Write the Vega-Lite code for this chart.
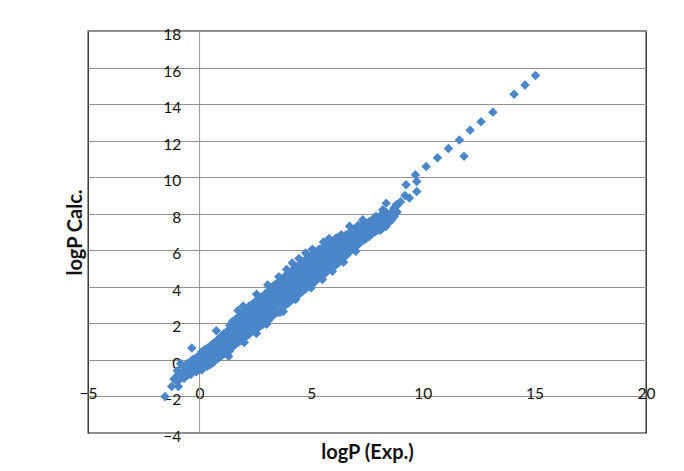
{
  "$schema": "https://vega.github.io/schema/vega-lite/v6.json",
  "width": 558,
  "height": 402,
  "autosize": {"type": "none"},
  "padding": {"left": 88, "top": 31, "right": 38, "bottom": 38},
  "background": "white",
  "config": {"view": {"stroke": "#1a1a1a", "strokeWidth": 1.3}, "font": "Lato"},
  "data": {"values": [
    {"exp": -1.55, "calc": -2.0}, {"exp": -1.25, "calc": -1.45}, {"exp": -0.95, "calc": -1.45}, {"exp": -1.15, "calc": -1.05}, {"exp": -0.35, "calc": 0.65}, {"exp": -0.85, "calc": -0.2},
    {"exp": -1.0, "calc": -1.2}, {"exp": -1.0, "calc": -0.85}, {"exp": -1.0, "calc": -0.6},
    {"exp": -0.7, "calc": -1.0}, {"exp": -0.7, "calc": -0.65}, {"exp": -0.7, "calc": -0.35},
    {"exp": -0.4, "calc": -0.8}, {"exp": -0.4, "calc": -0.45}, {"exp": -0.4, "calc": -0.1},
    {"exp": -0.15, "calc": -0.65}, {"exp": -0.15, "calc": -0.3}, {"exp": -0.15, "calc": 0.1},
    {"exp": 0.1, "calc": -0.55}, {"exp": 0.1, "calc": -0.2}, {"exp": 0.1, "calc": 0.15}, {"exp": 0.1, "calc": 0.45},
    {"exp": 0.35, "calc": -0.35}, {"exp": 0.35, "calc": 0.0}, {"exp": 0.35, "calc": 0.35}, {"exp": 0.35, "calc": 0.65},
    {"exp": 0.6, "calc": -0.15}, {"exp": 0.6, "calc": 0.2}, {"exp": 0.6, "calc": 0.55}, {"exp": 0.6, "calc": 0.9},
    {"exp": 0.85, "calc": 0.1}, {"exp": 0.85, "calc": 0.45}, {"exp": 0.85, "calc": 0.8}, {"exp": 0.85, "calc": 1.15}, {"exp": 0.75, "calc": 1.6},
    {"exp": 1.1, "calc": 0.35}, {"exp": 1.1, "calc": 0.7}, {"exp": 1.1, "calc": 1.05}, {"exp": 1.1, "calc": 1.45},
    {"exp": 1.35, "calc": 0.5}, {"exp": 1.35, "calc": 0.9}, {"exp": 1.35, "calc": 1.25}, {"exp": 1.35, "calc": 1.6}, {"exp": 1.35, "calc": 1.9},
    {"exp": 1.6, "calc": 0.85}, {"exp": 1.6, "calc": 1.2}, {"exp": 1.6, "calc": 1.55}, {"exp": 1.6, "calc": 1.9}, {"exp": 1.6, "calc": 2.2},
    {"exp": 1.85, "calc": 1.05}, {"exp": 1.85, "calc": 1.4}, {"exp": 1.85, "calc": 1.75}, {"exp": 1.85, "calc": 2.1}, {"exp": 1.85, "calc": 2.45},
    {"exp": 2.1, "calc": 1.3}, {"exp": 2.1, "calc": 1.65}, {"exp": 2.1, "calc": 2.0}, {"exp": 2.1, "calc": 2.4}, {"exp": 2.1, "calc": 2.8},
    {"exp": 2.35, "calc": 1.55}, {"exp": 2.35, "calc": 1.95}, {"exp": 2.35, "calc": 2.3}, {"exp": 2.35, "calc": 2.65}, {"exp": 2.35, "calc": 3.05},
    {"exp": 2.6, "calc": 1.75}, {"exp": 2.6, "calc": 2.1}, {"exp": 2.6, "calc": 2.5}, {"exp": 2.6, "calc": 2.9}, {"exp": 2.6, "calc": 3.3},
    {"exp": 2.85, "calc": 1.95}, {"exp": 2.85, "calc": 2.35}, {"exp": 2.85, "calc": 2.75}, {"exp": 2.85, "calc": 3.15}, {"exp": 2.85, "calc": 3.5},
    {"exp": 3.1, "calc": 2.2}, {"exp": 3.1, "calc": 2.6}, {"exp": 3.1, "calc": 3.0}, {"exp": 3.1, "calc": 3.4}, {"exp": 3.1, "calc": 3.8},
    {"exp": 3.35, "calc": 2.5}, {"exp": 3.35, "calc": 2.9}, {"exp": 3.35, "calc": 3.3}, {"exp": 3.35, "calc": 3.7}, {"exp": 3.35, "calc": 4.1},
    {"exp": 3.6, "calc": 2.6}, {"exp": 3.6, "calc": 3.1}, {"exp": 3.6, "calc": 3.5}, {"exp": 3.6, "calc": 3.9}, {"exp": 3.6, "calc": 4.3},
    {"exp": 3.85, "calc": 3.0}, {"exp": 3.85, "calc": 3.4}, {"exp": 3.85, "calc": 3.8}, {"exp": 3.85, "calc": 4.2}, {"exp": 3.85, "calc": 4.6},
    {"exp": 4.1, "calc": 3.25}, {"exp": 4.1, "calc": 3.65}, {"exp": 4.1, "calc": 4.05}, {"exp": 4.1, "calc": 4.45}, {"exp": 4.1, "calc": 4.85}, {"exp": 4.15, "calc": 5.3},
    {"exp": 4.35, "calc": 3.5}, {"exp": 4.35, "calc": 3.9}, {"exp": 4.35, "calc": 4.3}, {"exp": 4.35, "calc": 4.7}, {"exp": 4.35, "calc": 5.1},
    {"exp": 4.6, "calc": 3.75}, {"exp": 4.6, "calc": 4.15}, {"exp": 4.6, "calc": 4.55}, {"exp": 4.6, "calc": 4.95}, {"exp": 4.6, "calc": 5.35},
    {"exp": 4.85, "calc": 4.0}, {"exp": 4.85, "calc": 4.4}, {"exp": 4.85, "calc": 4.8}, {"exp": 4.85, "calc": 5.2}, {"exp": 4.85, "calc": 5.6},
    {"exp": 5.1, "calc": 4.2}, {"exp": 5.1, "calc": 4.6}, {"exp": 5.1, "calc": 5.0}, {"exp": 5.1, "calc": 5.4}, {"exp": 5.1, "calc": 5.8},
    {"exp": 5.35, "calc": 4.5}, {"exp": 5.35, "calc": 4.9}, {"exp": 5.35, "calc": 5.3}, {"exp": 5.35, "calc": 5.65}, {"exp": 5.35, "calc": 6.05},
    {"exp": 5.6, "calc": 4.7}, {"exp": 5.6, "calc": 5.1}, {"exp": 5.6, "calc": 5.5}, {"exp": 5.6, "calc": 5.85}, {"exp": 5.6, "calc": 6.2},
    {"exp": 5.85, "calc": 5.0}, {"exp": 5.85, "calc": 5.35}, {"exp": 5.85, "calc": 5.7}, {"exp": 5.85, "calc": 6.05}, {"exp": 5.85, "calc": 6.4},
    {"exp": 6.1, "calc": 5.2}, {"exp": 6.1, "calc": 5.55}, {"exp": 6.1, "calc": 5.9}, {"exp": 6.1, "calc": 6.25}, {"exp": 6.1, "calc": 6.6},
    {"exp": 6.35, "calc": 5.45}, {"exp": 6.35, "calc": 5.8}, {"exp": 6.35, "calc": 6.15}, {"exp": 6.35, "calc": 6.5}, {"exp": 6.35, "calc": 6.85},
    {"exp": 6.6, "calc": 5.75}, {"exp": 6.6, "calc": 6.1}, {"exp": 6.6, "calc": 6.45}, {"exp": 6.6, "calc": 6.8},
    {"exp": 6.85, "calc": 6.05}, {"exp": 6.85, "calc": 6.4}, {"exp": 6.85, "calc": 6.75}, {"exp": 6.85, "calc": 7.1}, {"exp": 7.0, "calc": 5.95},
    {"exp": 7.1, "calc": 6.3}, {"exp": 7.1, "calc": 6.65}, {"exp": 7.1, "calc": 7.0}, {"exp": 7.1, "calc": 7.35},
    {"exp": 7.35, "calc": 6.55}, {"exp": 7.35, "calc": 6.9}, {"exp": 7.35, "calc": 7.25}, {"exp": 7.35, "calc": 7.6},
    {"exp": 7.6, "calc": 6.75}, {"exp": 7.6, "calc": 7.1}, {"exp": 7.6, "calc": 7.5},
    {"exp": 7.85, "calc": 7.0}, {"exp": 7.85, "calc": 7.35}, {"exp": 7.85, "calc": 7.8},
    {"exp": 8.1, "calc": 7.1}, {"exp": 8.1, "calc": 7.45}, {"exp": 8.1, "calc": 7.9},
    {"exp": 8.35, "calc": 7.3}, {"exp": 8.35, "calc": 7.7}, {"exp": 8.35, "calc": 8.1},
    {"exp": 8.6, "calc": 7.65}, {"exp": 8.6, "calc": 8.05},
    {"exp": 8.85, "calc": 8.1}, {"exp": 8.85, "calc": 8.45},
    {"exp": 9.0, "calc": 8.65}, {"exp": 8.7, "calc": 8.3}, {"exp": 9.2, "calc": 9.0},
    {"exp": -0.85, "calc": -1.0}, {"exp": -0.85, "calc": -0.7},
    {"exp": -0.55, "calc": -0.85}, {"exp": -0.55, "calc": -0.5}, {"exp": -0.55, "calc": -0.2},
    {"exp": -0.28, "calc": -0.6}, {"exp": -0.28, "calc": -0.25}, {"exp": -0.28, "calc": 0.05},
    {"exp": -0.02, "calc": -0.5}, {"exp": -0.02, "calc": -0.1}, {"exp": -0.02, "calc": 0.25},
    {"exp": 0.22, "calc": -0.4}, {"exp": 0.22, "calc": 0.0}, {"exp": 0.22, "calc": 0.3}, {"exp": 0.22, "calc": 0.55},
    {"exp": 0.48, "calc": -0.25}, {"exp": 0.48, "calc": 0.15}, {"exp": 0.48, "calc": 0.45}, {"exp": 0.48, "calc": 0.75},
    {"exp": 0.72, "calc": 0.0}, {"exp": 0.72, "calc": 0.35}, {"exp": 0.72, "calc": 0.7}, {"exp": 0.72, "calc": 1.0},
    {"exp": 0.97, "calc": 0.2}, {"exp": 0.97, "calc": 0.6}, {"exp": 0.97, "calc": 0.95}, {"exp": 0.97, "calc": 1.3},
    {"exp": 1.22, "calc": 0.45}, {"exp": 1.22, "calc": 0.85}, {"exp": 1.22, "calc": 1.2}, {"exp": 1.22, "calc": 1.55},
    {"exp": 1.47, "calc": 0.7}, {"exp": 1.47, "calc": 1.05}, {"exp": 1.47, "calc": 1.45}, {"exp": 1.47, "calc": 1.8}, {"exp": 1.47, "calc": 2.1},
    {"exp": 1.72, "calc": 0.95}, {"exp": 1.72, "calc": 1.3}, {"exp": 1.72, "calc": 1.65}, {"exp": 1.72, "calc": 2.0}, {"exp": 1.72, "calc": 2.35}, {"exp": 1.72, "calc": 2.7},
    {"exp": 1.97, "calc": 1.2}, {"exp": 1.97, "calc": 1.55}, {"exp": 1.97, "calc": 1.9}, {"exp": 1.97, "calc": 2.25}, {"exp": 1.97, "calc": 2.6},
    {"exp": 2.22, "calc": 1.4}, {"exp": 2.22, "calc": 1.8}, {"exp": 2.22, "calc": 2.15}, {"exp": 2.22, "calc": 2.55}, {"exp": 2.22, "calc": 2.95},
    {"exp": 2.47, "calc": 1.65}, {"exp": 2.47, "calc": 2.0}, {"exp": 2.47, "calc": 2.4}, {"exp": 2.47, "calc": 2.8}, {"exp": 2.47, "calc": 3.15},
    {"exp": 2.72, "calc": 1.85}, {"exp": 2.72, "calc": 2.25}, {"exp": 2.72, "calc": 2.65}, {"exp": 2.72, "calc": 3.0}, {"exp": 2.72, "calc": 3.4},
    {"exp": 2.97, "calc": 2.1}, {"exp": 2.97, "calc": 2.5}, {"exp": 2.97, "calc": 2.9}, {"exp": 2.97, "calc": 3.25}, {"exp": 2.97, "calc": 3.65},
    {"exp": 3.22, "calc": 2.35}, {"exp": 3.22, "calc": 2.75}, {"exp": 3.22, "calc": 3.15}, {"exp": 3.22, "calc": 3.55}, {"exp": 3.22, "calc": 3.95},
    {"exp": 3.47, "calc": 2.6}, {"exp": 3.47, "calc": 3.0}, {"exp": 3.47, "calc": 3.4}, {"exp": 3.47, "calc": 3.8}, {"exp": 3.47, "calc": 4.2},
    {"exp": 3.72, "calc": 2.85}, {"exp": 3.72, "calc": 3.25}, {"exp": 3.72, "calc": 3.65}, {"exp": 3.72, "calc": 4.05}, {"exp": 3.72, "calc": 4.45},
    {"exp": 3.97, "calc": 3.1}, {"exp": 3.97, "calc": 3.5}, {"exp": 3.97, "calc": 3.9}, {"exp": 3.97, "calc": 4.3}, {"exp": 3.97, "calc": 4.7},
    {"exp": 4.22, "calc": 3.35}, {"exp": 4.22, "calc": 3.75}, {"exp": 4.22, "calc": 4.15}, {"exp": 4.22, "calc": 4.55}, {"exp": 4.22, "calc": 4.95},
    {"exp": 4.47, "calc": 3.6}, {"exp": 4.47, "calc": 4.0}, {"exp": 4.47, "calc": 4.4}, {"exp": 4.47, "calc": 4.8}, {"exp": 4.47, "calc": 5.2},
    {"exp": 4.72, "calc": 3.85}, {"exp": 4.72, "calc": 4.25}, {"exp": 4.72, "calc": 4.65}, {"exp": 4.72, "calc": 5.05}, {"exp": 4.72, "calc": 5.45},
    {"exp": 4.97, "calc": 4.1}, {"exp": 4.97, "calc": 4.5}, {"exp": 4.97, "calc": 4.9}, {"exp": 4.97, "calc": 5.3}, {"exp": 4.97, "calc": 5.7},
    {"exp": 5.22, "calc": 4.35}, {"exp": 5.22, "calc": 4.75}, {"exp": 5.22, "calc": 5.15}, {"exp": 5.22, "calc": 5.5}, {"exp": 5.22, "calc": 5.9},
    {"exp": 5.47, "calc": 4.6}, {"exp": 5.47, "calc": 5.0}, {"exp": 5.47, "calc": 5.4}, {"exp": 5.47, "calc": 5.75}, {"exp": 5.47, "calc": 6.1},
    {"exp": 5.72, "calc": 4.85}, {"exp": 5.72, "calc": 5.2}, {"exp": 5.72, "calc": 5.6}, {"exp": 5.72, "calc": 5.95}, {"exp": 5.72, "calc": 6.3},
    {"exp": 5.97, "calc": 5.1}, {"exp": 5.97, "calc": 5.45}, {"exp": 5.97, "calc": 5.8}, {"exp": 5.97, "calc": 6.15},
    {"exp": 6.22, "calc": 5.3}, {"exp": 6.22, "calc": 5.65}, {"exp": 6.22, "calc": 6.0}, {"exp": 6.22, "calc": 6.35}, {"exp": 6.22, "calc": 6.7},
    {"exp": 6.47, "calc": 5.6}, {"exp": 6.47, "calc": 5.95}, {"exp": 6.47, "calc": 6.3}, {"exp": 6.47, "calc": 6.65},
    {"exp": 6.72, "calc": 5.9}, {"exp": 6.72, "calc": 6.25}, {"exp": 6.72, "calc": 6.6}, {"exp": 6.72, "calc": 6.95},
    {"exp": 6.97, "calc": 6.2}, {"exp": 6.97, "calc": 6.5}, {"exp": 6.97, "calc": 6.85}, {"exp": 6.97, "calc": 7.2},
    {"exp": 7.22, "calc": 6.45}, {"exp": 7.22, "calc": 6.8}, {"exp": 7.22, "calc": 7.1},
    {"exp": 7.47, "calc": 6.65}, {"exp": 7.47, "calc": 7.0}, {"exp": 7.47, "calc": 7.35},
    {"exp": 7.72, "calc": 6.9}, {"exp": 7.72, "calc": 7.25}, {"exp": 7.72, "calc": 7.6},
    {"exp": 7.97, "calc": 7.1}, {"exp": 7.97, "calc": 7.45}, {"exp": 7.97, "calc": 7.75},
    {"exp": 8.22, "calc": 7.25}, {"exp": 8.22, "calc": 7.6}, {"exp": 8.22, "calc": 7.95},
    {"exp": 8.47, "calc": 7.5}, {"exp": 8.47, "calc": 7.85},
    {"exp": 8.72, "calc": 7.85}, {"exp": 8.72, "calc": 8.2},
    {"exp": 1.95, "calc": 2.95}, {"exp": 2.55, "calc": 3.6}, {"exp": 3.05, "calc": 4.1}, {"exp": 3.55, "calc": 4.55}, {"exp": 3.9, "calc": 4.95},
    {"exp": 4.45, "calc": 5.55}, {"exp": 4.75, "calc": 5.85}, {"exp": 5.05, "calc": 6.05}, {"exp": 5.55, "calc": 6.45}, {"exp": 5.8, "calc": 6.65},
    {"exp": 1.3, "calc": 0.2}, {"exp": 2.0, "calc": 0.95}, {"exp": 2.55, "calc": 1.45}, {"exp": 3.0, "calc": 1.95}, {"exp": 3.75, "calc": 2.65},
    {"exp": 4.3, "calc": 3.3}, {"exp": 5.0, "calc": 3.95}, {"exp": 5.5, "calc": 4.4}, {"exp": 5.95, "calc": 4.85}, {"exp": 6.45, "calc": 5.35},
    {"exp": 9.67, "calc": 10.13}, {"exp": 9.73, "calc": 9.77}, {"exp": 9.25, "calc": 9.58}, {"exp": 9.73, "calc": 9.22}, {"exp": 9.4, "calc": 8.86},
    {"exp": 8.81, "calc": 8.49}, {"exp": 8.36, "calc": 8.58}, {"exp": 8.21, "calc": 8.22}, {"exp": 8.51, "calc": 7.95}, {"exp": 7.91, "calc": 7.85},
    {"exp": 7.61, "calc": 7.58}, {"exp": 7.31, "calc": 7.67}, {"exp": 7.24, "calc": 7.27}, {"exp": 6.72, "calc": 7.31}, {"exp": 6.57, "calc": 6.85},
    {"exp": 6.12, "calc": 6.67}, {"exp": 5.97, "calc": 6.4},
    {"exp": 10.15, "calc": 10.58}, {"exp": 10.66, "calc": 11.06}, {"exp": 11.15, "calc": 11.57}, {"exp": 11.64, "calc": 12.04}, {"exp": 12.12, "calc": 12.57},
    {"exp": 12.61, "calc": 13.04}, {"exp": 13.14, "calc": 13.56}, {"exp": 14.09, "calc": 14.54}, {"exp": 14.58, "calc": 15.05}, {"exp": 15.05, "calc": 15.56},
    {"exp": 11.85, "calc": 11.15}
  ]},
  "layer": [
    {
      "data": {"values": [{}]},
      "mark": {"type": "rule", "color": "#9a918c", "strokeWidth": 1},
      "encoding": {"x": {"datum": 0, "type": "quantitative"}}
    },
    {
      "mark": {"type": "point", "shape": "diamond", "filled": true, "size": 90, "color": "#4A86C8", "opacity": 1},
      "encoding": {
        "x": {
          "field": "exp", "type": "quantitative",
          "scale": {"domain": [-5, 20], "nice": false, "zero": false},
          "axis": {
            "values": [-5, 0, 5, 10, 15, 20], "title": "logP (Exp.)", "grid": false, "domain": false,
            "ticks": false, "tickSize": 0, "labelPadding": -39.5, "labelBaseline": "middle",
            "labelFlush": false, "labelOverlap": false, "labelFontSize": 15.5, "labelColor": "#111111",
            "titleFontSize": 20, "titleFontWeight": "bold", "titleColor": "#111111",
            "titleY": 19, "titleBaseline": "middle"
          }
        },
        "y": {
          "field": "calc", "type": "quantitative",
          "scale": {"domain": [-4, 18], "nice": false, "zero": false},
          "axis": {
            "values": [-4, -2, 0, 2, 4, 6, 8, 10, 12, 14, 16, 18], "title": "logP Calc.",
            "grid": true, "gridColor": "#9a918c", "gridWidth": 1, "domain": false,
            "ticks": false, "tickSize": 0, "labelPadding": -92.7, "labelOffset": 3.5, "labelBaseline": "middle",
            "labelFlush": false, "labelOverlap": false, "labelFontSize": 15.5, "labelColor": "#111111",
            "titleFontSize": 20, "titleFontWeight": "bold", "titleColor": "#111111",
            "titleX": -13, "titleY": 201, "titleBaseline": "middle"
          }
        }
      }
    }
  ]
}
